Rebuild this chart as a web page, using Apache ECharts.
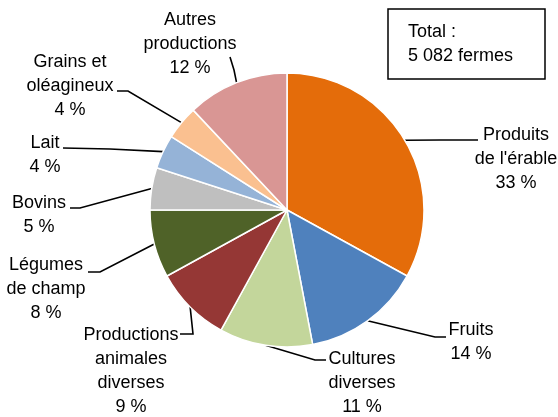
<!DOCTYPE html>
<html>
<head>
<meta charset="utf-8">
<script src="https://cdn.jsdelivr.net/npm/echarts@6/dist/echarts.min.js"></script>
<style>
  html, body { margin: 0; padding: 0; background: #fff; }
  #main { width: 558px; height: 417px; }
</style>
</head>
<body>
<div id="main"></div>
<script>
// données : répartition des fermes par production principale (%)
var categories = ['Produits\nde l\'érable', 'Fruits', 'Cultures\ndiverses', 'Productions\nanimales\ndiverses',
    'Légumes\nde champ', 'Bovins', 'Lait', 'Grains et\noléagineux', 'Autres\nproductions'];
var percents = [33, 14, 11, 9, 8, 5, 4, 4, 12];
var colors = ['#E46C0A', '#4F81BD', '#C3D69B', '#953735', '#4F6228', '#BFBFBF', '#95B3D7', '#FAC090', '#D99694'];
var totalText = 'Total :\n5 082 fermes';

var font = "'Liberation Sans', Arial, sans-serif";

// emplacement des étiquettes : [x centre, y haut, coude x, coude y, fin x, fin y]
var labelPos = [
    [516, 123, 440, 140, 478, 140],
    [471, 318, 435, 337, 446, 337],
    [362, 347, 315, 360, 326, 360],
    [131, 323, 193, 334, 180, 334],
    [46, 253, 100, 272, 88, 272],
    [39, 191, 80, 208, 70, 208],
    [45, 131, 110, 149, 63, 148],
    [70, 50, 128, 91, 117, 91],
    [190, 8, 234, 70, 230, 57]
];

var myChart = echarts.init(document.getElementById('main'));

var data = categories.map(function (c, i) {
    return { name: c, value: percents[i], itemStyle: { color: colors[i] } };
});

var option = {
    animation: false,
    textStyle: { fontFamily: font },
    graphic: [
        {
            type: 'rect',
            shape: { x: 388, y: 9, width: 157, height: 70 },
            style: { fill: '#fff', stroke: '#000', lineWidth: 1.5 }
        },
        {
            type: 'text',
            left: 408,
            top: 20,
            style: {
                text: totalText,
                font: '18px ' + font,
                lineHeight: 24,
                fill: '#000'
            }
        }
    ],
    series: [
        {
            type: 'pie',
            center: [287, 210],
            radius: 137,
            startAngle: 90,
            clockwise: true,
            avoidLabelOverlap: false,
            itemStyle: { borderColor: '#fff', borderWidth: 1.5 },
            label: {
                show: true,
                position: 'outside',
                color: '#000',
                fontSize: 18,
                lineHeight: 24,
                fontFamily: font,
                align: 'center',
                formatter: function (p) {
                    return p.name + '\n' + p.value + ' %';
                }
            },
            labelLine: {
                show: true,
                lineStyle: { color: '#000', width: 1.6 }
            },
            labelLayout: function (params) {
                var q = labelPos[params.dataIndex];
                var pts = params.labelLinePoints;
                var out = { x: q[0], y: q[1], align: 'center', verticalAlign: 'top' };
                if (pts) {
                    out.labelLinePoints = [pts[0], [q[2], q[3]], [q[4], q[5]]];
                }
                return out;
            },
            data: data
        }
    ]
};

myChart.setOption(option);
</script>
</body>
</html>
